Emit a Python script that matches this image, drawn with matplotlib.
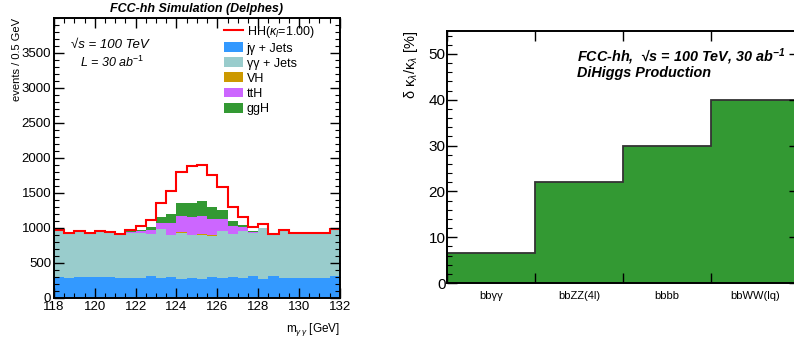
import numpy as np
import matplotlib
matplotlib.use('Agg')
import matplotlib.pyplot as plt
from matplotlib.patches import Patch
from matplotlib.lines import Line2D
from matplotlib.ticker import MultipleLocator, FixedLocator, NullFormatter

plt.rcParams['font.family'] = ['Liberation Sans', 'DejaVu Sans']
plt.rcParams['mathtext.fontset'] = 'custom'
plt.rcParams['mathtext.rm'] = 'Liberation Sans'
plt.rcParams['mathtext.it'] = 'Liberation Sans:italic'
plt.rcParams['mathtext.bf'] = 'Liberation Sans:bold:italic'

# ---- left panel: m_yy, 28 bins of 0.5 GeV between 118 and 132
m_lo, m_hi, m_bin = 118.0, 132.0, 0.5

jgam_jets = [295, 285, 305, 295, 305, 295, 280, 290, 290, 315, 280, 295, 275, 280,
             275, 300, 285, 300, 290, 320, 275, 310, 290, 290, 290, 290, 290, 315]
gamgam_jets = [670, 640, 650, 640, 650, 645, 640, 645, 640, 605, 700, 605, 655, 615,
               630, 590, 675, 610, 665, 605, 725, 600, 685, 635, 645, 635, 645, 675]
vh = [0, 0, 0, 0, 0, 0, 0, 0, 0, 0, 3, 5, 6, 6,
      6, 5, 4, 4, 3, 0, 0, 0, 0, 0, 0, 0, 0, 0]
tth = [0, 0, 0, 0, 0, 0, 0, 10, 20, 50, 90, 160, 235, 250,
       260, 230, 160, 115, 50, 20, 0, 0, 0, 0, 0, 0, 0, 0]
ggh = [0, 0, 0, 0, 0, 0, 0, 8, 25, 40, 85, 135, 180, 210,
       210, 170, 135, 75, 40, 15, 0, 0, 0, 0, 0, 0, 0, 0]
hh = [0, 0, 0, 0, 0, 0, 0, 20, 50, 110, 205, 325, 450, 530,
      525, 455, 325, 190, 115, 55, 50, 0, 0, 0, 0, 0, 0, 0]

stack_names = ['j\u03b3 + Jets', '\u03b3\u03b3 + Jets', 'VH', 'ttH', 'ggH']
stack_colors = ['#3399ff', '#99cccc', '#cc9900', '#cc66ff', '#339933']
hh_label = r'HH($\kappa_{l}$=1.00)'

# ---- right panel: precision on the trilinear coupling per channel
channels = ['bb\u03b3\u03b3', 'bbZZ(4l)', 'bbbb', 'bbWW(lq)']
dkl = [6.5, 22, 30, 40]

fig = plt.figure(figsize=(7.94, 3.42), dpi=100)


def root_style(ax, right=True):
    ax.tick_params(which='both', direction='in', top=True, right=right, labelsize=8.5)
    ax.tick_params(which='major', length=7, width=1)
    ax.tick_params(which='minor', length=3.5, width=0.8)
    for s in ax.spines.values():
        s.set_linewidth(1.4)


# left
ax = fig.add_axes([0.068, 0.1287, 0.360, 0.8187])
edges = np.arange(m_lo, m_hi + m_bin / 2, m_bin)
bottom = np.zeros(len(jgam_jets))
for vals, name, col in zip([jgam_jets, gamgam_jets, vh, tth, ggh], stack_names, stack_colors):
    top = bottom + np.array(vals)
    ax.stairs(top, edges, baseline=bottom, fill=True, color=col, lw=0)
    bottom = top
ax.stairs(bottom + np.array(hh), edges, baseline=None, color='#ff0000', lw=1.5)

ax.set_xlim(m_lo, m_hi)
ax.set_ylim(0, 4000)
ax.xaxis.set_major_locator(MultipleLocator(2))
ax.xaxis.set_minor_locator(MultipleLocator(0.5))
ax.yaxis.set_major_locator(FixedLocator([0, 500, 1000, 1500, 2000, 2500, 3000, 3500]))
ax.yaxis.set_minor_locator(MultipleLocator(100))
root_style(ax)
ax.tick_params(axis='both', pad=2, labelsize=9.5)

ax.set_ylabel('events / 0.5 GeV', fontsize=8, loc='top', labelpad=0)
ax.set_xlabel(r'm$_{\gamma\,\gamma}$ [GeV]', fontsize=8.5, loc='right', labelpad=6)
ax.set_title('FCC-hh Simulation (Delphes)', fontsize=9, fontweight='bold',
             style='italic', pad=4)
ax.text(0.06, 0.905, '\u221as = 100 TeV', transform=ax.transAxes, fontsize=9.5,
        style='italic', ha='left', va='center')
ax.text(0.09, 0.84, r'L = 30 ab$^{\mathit{-1}}$', transform=ax.transAxes, fontsize=9,
        style='italic', ha='left', va='center')

handles = [Line2D([], [], color='#ff0000', lw=1.5)]
handles += [Patch(facecolor=c, edgecolor='none') for c in stack_colors]
ax.legend(handles, [hh_label] + stack_names, loc='upper left',
          bbox_to_anchor=(0.595, 0.98), frameon=False, fontsize=9,
          handlelength=1.5, handleheight=0.85, handletextpad=0.3,
          labelspacing=0.22, borderpad=0, borderaxespad=0)

# right
ax2 = fig.add_axes([0.563, 0.1725, 0.443, 0.737])
x = np.arange(len(channels) + 1)
ax2.stairs(dkl, x, fill=True, facecolor='#339933', edgecolor='#333333', lw=1.3)
ax2.set_xlim(0, len(channels))
ax2.set_ylim(0, 55)
ax2.xaxis.set_major_locator(FixedLocator(x))
ax2.xaxis.set_major_formatter(NullFormatter())
ax2.xaxis.set_minor_locator(FixedLocator(x[:-1] + 0.5))
ax2.set_xticklabels(channels, minor=True)
ax2.yaxis.set_major_locator(MultipleLocator(10))
ax2.yaxis.set_minor_locator(MultipleLocator(2))
root_style(ax2)
ax2.tick_params(axis='y', labelsize=11, pad=1)
ax2.tick_params(axis='x', which='minor', length=0, labelsize=8, pad=6)
ax2.set_ylabel('\u03b4 \u03ba$_{\u03bb}$/\u03ba$_{\u03bb}$ [%]', fontsize=10.5,
               loc='top', labelpad=6)
ax2.text(0.37, 0.897, 'FCC-hh,  \u221as = 100 TeV, 30 ab$^{\\mathbf{-1}}$',
         transform=ax2.transAxes, fontsize=10.4, fontweight='bold', style='italic',
         ha='left', va='center')
ax2.text(0.37, 0.833, 'DiHiggs Production', transform=ax2.transAxes, fontsize=10.4,
         fontweight='bold', style='italic', ha='left', va='center')

fig.savefig('out.png', dpi=100)
